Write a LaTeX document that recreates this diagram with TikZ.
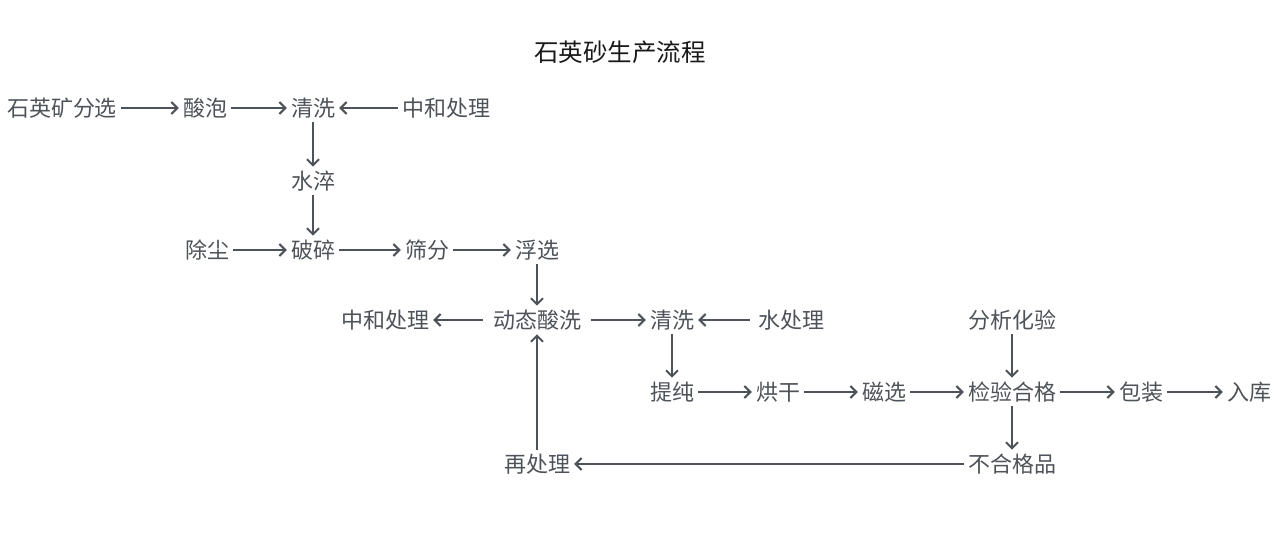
\documentclass[tikz,border=0pt]{standalone}
\usepackage{fontspec}
\setmainfont{Noto Sans CJK SC}
\usepackage{tikz}
\usetikzlibrary{arrows.meta, positioning}
\usepackage{xcolor}
\definecolor{flowgray}{RGB}{78,82,89}
\definecolor{titleblack}{RGB}{25,25,25}

\begin{document}
\begin{tikzpicture}[
    x=1pt, y=-1pt,
    stage/.style={inner xsep=4pt, inner ysep=4pt, text=flowgray, font=\fontsize{22}{25}\selectfont},
    title/.style={text=titleblack, font=\fontsize{24.5}{27}\selectfont},
    arrow/.style={-{Straight Barb[length=6pt, width=12pt, line width=2pt]}, line width=2pt, draw=flowgray},
]
    \useasboundingbox (0,0) rectangle (1280,535);

    % Title
    \node[title] (head) at (620,52) {石英砂生产流程};

    % Row 1
    \node[stage] (ore) at (62,108) {石英矿分选};
    \node[stage] (soak) at (205,108) {酸泡};
    \node[stage] (wash) at (313,108) {清洗};
    \node[stage] (neutra) at (446,108) {中和处理};

    % Quench
    \node[stage] (quench) at (313,181) {水淬};

    % Row 3
    \node[stage] (dust) at (207,250) {除尘};
    \node[stage] (crush) at (313,250) {破碎};
    \node[stage] (sieve) at (427,250) {筛分};
    \node[stage] (float) at (537,250) {浮选};

    % Row 4
    \node[stage] (neutrb) at (385,320) {中和处理};
    \node[stage, inner xsep=10pt] (dynacid) at (537,320) {动态酸洗};
    \node[stage] (washb) at (672,320) {清洗};
    \node[stage, inner xsep=8pt] (water) at (791,320) {水处理};
    \node[stage] (assay) at (1012,320) {分析化验};

    % Row 5
    \node[stage] (purify) at (672,392) {提纯};
    \node[stage] (dry) at (778,392) {烘干};
    \node[stage] (magnet) at (884,392) {磁选};
    \node[stage] (check) at (1012,392) {检验合格};
    \node[stage] (pack) at (1141,392) {包装};
    \node[stage] (store) at (1249,392) {入库};

    % Row 6
    \node[stage] (reject) at (1012,464) {不合格品};
    \node[stage] (redo) at (537,464) {再处理};

    % Arrows: first stage
    \draw[arrow] (ore) -- (soak);
    \draw[arrow] (soak) -- (wash);
    \draw[arrow] (neutra) -- (wash);
    \draw[arrow] (wash) -- (quench);
    \draw[arrow] (quench) -- (crush);

    % Arrows: crushing line
    \draw[arrow] (dust) -- (crush);
    \draw[arrow] (crush) -- (sieve);
    \draw[arrow] (sieve) -- (float);
    \draw[arrow] (float) -- (dynacid);

    % Arrows: acid washing
    \draw[arrow] (dynacid) -- (neutrb);
    \draw[arrow] (dynacid) -- (washb);
    \draw[arrow] (water) -- (washb);
    \draw[arrow] (washb) -- (purify);

    % Arrows: finishing line
    \draw[arrow] (purify) -- (dry);
    \draw[arrow] (dry) -- (magnet);
    \draw[arrow] (magnet) -- (check);
    \draw[arrow] (check) -- (pack);
    \draw[arrow] (pack) -- (store);
    \draw[arrow] (assay) -- (check);

    % Arrows: rework loop
    \draw[arrow] (check) -- (reject);
    \draw[arrow] (reject) -- (redo);
    \draw[arrow] (redo) -- (dynacid);

\end{tikzpicture}
\end{document}
